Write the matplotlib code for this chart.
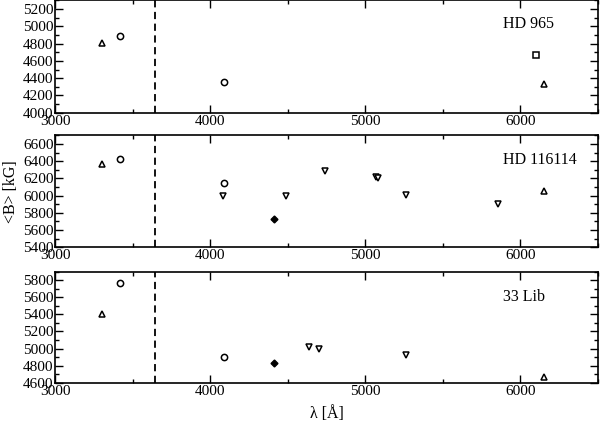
import matplotlib
matplotlib.use("Agg")
import matplotlib.pyplot as plt
from matplotlib.ticker import MultipleLocator

plt.rcParams['font.family'] = ['Liberation Serif', 'DejaVu Serif']
plt.rcParams['mathtext.fontset'] = 'stix'

balmer = 3646

# HD 965
hd965_tri_up_x = [3302, 6149]
hd965_tri_up_y = [4810, 4330]
hd965_circ_x = [3420, 4087]
hd965_circ_y = [4890, 4350]
hd965_sq_x = [6100]
hd965_sq_y = [4670]

# HD 116114
hd116_tri_up_x = [3302, 6149]
hd116_tri_up_y = [6370, 6050]
hd116_circ_x = [3420, 4087]
hd116_circ_y = [6430, 6150]
hd116_tri_dn_x = [4082, 4490, 4743, 5066, 5082, 5261, 5855]
hd116_tri_dn_y = [5990, 6000, 6280, 6215, 6210, 6010, 5900]
hd116_dia_x = [4410]
hd116_dia_y = [5730]

# 33 Lib
lib_tri_up_x = [3302, 6149]
lib_tri_up_y = [5410, 4670]
lib_circ_x = [3420, 4087]
lib_circ_y = [5770, 4900]
lib_tri_dn_x = [4640, 4704, 5261]
lib_tri_dn_y = [5020, 4990, 4930]
lib_dia_x = [4410]
lib_dia_y = [4835]

fig = plt.figure(figsize=(6.0, 4.22), dpi=100)
W, H = 600.0, 422.0
left, right = 55 / W, 598 / W
panels = [(0.5, 112.7), (135.3, 247.3), (271.7, 382.7)]
axes = []
for top, bot in panels:
    ax = fig.add_axes([left, 1 - bot / H, right - left, (bot - top) / H])
    axes.append(ax)

ylims = [(4000, 5300), (5400, 6700), (4600, 5900)]
names = ["HD 965", "HD 116114", "33 Lib"]
name_y = [0.79, 0.78, 0.775]

ms = 4.5
def open_marker(ax, x, y, m, size=ms):
    ax.plot(x, y, linestyle='none', marker=m, markersize=size,
            markerfacecolor='white', markeredgecolor='black', markeredgewidth=1.1)

def filled_marker(ax, x, y, m, size=ms):
    ax.plot(x, y, linestyle='none', marker=m, markersize=size,
            markerfacecolor='black', markeredgecolor='black', markeredgewidth=1.0)

ax = axes[0]
open_marker(ax, hd965_tri_up_x, hd965_tri_up_y, '^')
open_marker(ax, hd965_circ_x, hd965_circ_y, 'o')
open_marker(ax, hd965_sq_x, hd965_sq_y, 's', 4.0)

ax = axes[1]
open_marker(ax, hd116_tri_up_x, hd116_tri_up_y, '^')
open_marker(ax, hd116_circ_x, hd116_circ_y, 'o')
open_marker(ax, hd116_tri_dn_x, hd116_tri_dn_y, 'v')
filled_marker(ax, hd116_dia_x, hd116_dia_y, 'D', 3.5)

ax = axes[2]
open_marker(ax, lib_tri_up_x, lib_tri_up_y, '^')
open_marker(ax, lib_circ_x, lib_circ_y, 'o')
open_marker(ax, lib_tri_dn_x, lib_tri_dn_y, 'v')
filled_marker(ax, lib_dia_x, lib_dia_y, 'D', 3.5)

for ax, yl, name, ny in zip(axes, ylims, names, name_y):
    ax.axvline(balmer, color='black', linestyle=(0, (4, 2.5)), linewidth=1.3)
    ax.set_xlim(3000, 6500)
    ax.set_ylim(*yl)
    ax.xaxis.set_major_locator(MultipleLocator(1000))
    ax.xaxis.set_minor_locator(MultipleLocator(500))
    ax.yaxis.set_major_locator(MultipleLocator(200))
    ax.yaxis.set_minor_locator(MultipleLocator(100))
    ax.tick_params(which='both', direction='in', top=True, right=True,
                   labelsize=11, width=1.0)
    ax.tick_params(which='major', length=6, pad=1.5)
    ax.tick_params(which='minor', length=3)
    ax.tick_params(axis='y', which='major', pad=1)
    for s in ax.spines.values():
        s.set_linewidth(1.2)
    ax.text(0.825, ny, name, transform=ax.transAxes, ha='left', va='center',
            fontsize=11.5)

axes[1].set_ylabel('<B> [kG]', fontsize=11.5, labelpad=3)
axes[2].set_xlabel('λ [Å]', fontsize=11.5, labelpad=6)

fig.savefig('out.png', dpi=100)
